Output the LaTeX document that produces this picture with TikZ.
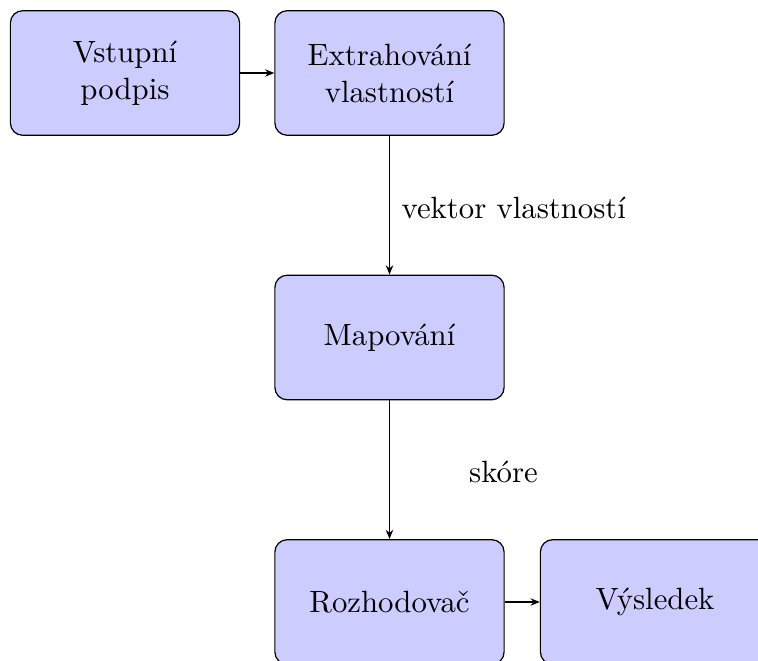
\documentclass[tikz,border=0pt]{standalone}
\usepackage{fontspec}
\usetikzlibrary{arrows.meta}
\tikzset{
  blockbox/.style={draw, fill=blue!20, rounded corners=4pt, minimum width=74.5pt, minimum height=40.5pt, align=center, inner sep=2pt},
  conn/.style={-{Stealth[length=3pt,width=2.4pt]}, line width=0.4pt},
  lbl/.style={inner sep=0pt}
}
\begin{document}
\begin{tikzpicture}[x=0.325pt,y=-0.325pt]
\useasboundingbox (0,0) rectangle (758,661);
\node[blockbox] (in) at (125,73) {Vstupní\\podpis};
\node[blockbox] (ex) at (389.5,73) {Extrahování\\vlastností};
\node[blockbox] (map) at (389.5,337.5) {Mapování};
\node[blockbox] (roz) at (389.5,602) {Rozhodovač};
\node[blockbox] (vys) at (655,602) {Výsledek};
\node[lbl, anchor=west] (l1) at (401,208) {vektor vlastností};
\node[lbl] (l2) at (503.5,472) {skóre};
\draw[conn] (in) -- (ex);
\draw[conn] (ex) -- (map);
\draw[conn] (map) -- (roz);
\draw[conn] (roz) -- (vys);
\end{tikzpicture}
\end{document}
